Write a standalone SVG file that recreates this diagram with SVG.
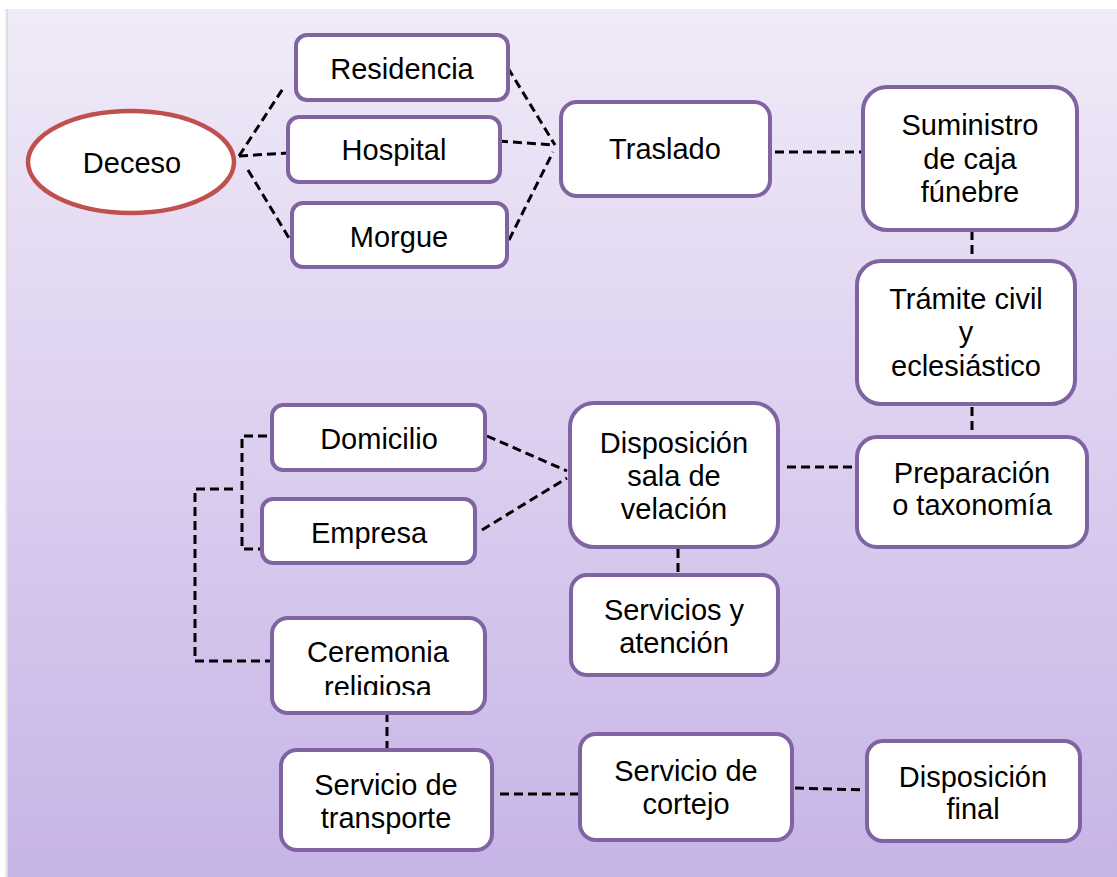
<svg xmlns="http://www.w3.org/2000/svg" width="1117" height="877" viewBox="0 0 1117 877">
<defs>
<linearGradient id="bg" x1="0" y1="0" x2="0" y2="1">
<stop offset="0" stop-color="#f0ebf8"/>
<stop offset="0.5" stop-color="#dccfef"/>
<stop offset="1" stop-color="#c7b4e7"/>
</linearGradient>
<linearGradient id="sh" x1="0" y1="0" x2="1" y2="0">
<stop offset="0" stop-color="#ffffff"/>
<stop offset="1" stop-color="#d6d6d6"/>
</linearGradient>
<clipPath id="clipCer"><rect x="272" y="618" width="213" height="77"/></clipPath>
</defs>
<style>
.box{fill:#ffffff;stroke:#8064a2;stroke-width:4}
.t{font-family:"Liberation Sans",Arial,sans-serif;font-size:29px;fill:#000000;text-anchor:middle}
.c{fill:none;stroke:#000000;stroke-width:3;stroke-dasharray:9 5}
</style>
<rect x="0" y="0" width="1117" height="877" fill="#ffffff"/>
<rect x="4" y="9" width="4" height="868" fill="url(#sh)"/>
<rect x="8" y="9" width="1109" height="868" fill="url(#bg)"/>

<g id="connectors">
<line class="c" x1="239" y1="156" x2="284" y2="87"/>
<line class="c" x1="239" y1="156" x2="288" y2="153"/>
<line class="c" x1="248" y1="170" x2="292" y2="243"/>
<line class="c" x1="508" y1="68" x2="555" y2="145"/>
<line class="c" x1="499" y1="141" x2="555" y2="145"/>
<line class="c" x1="509" y1="240" x2="553" y2="152"/>
<line class="c" x1="775" y1="152" x2="863" y2="152"/>
<line class="c" x1="972" y1="231" x2="972" y2="262"/>
<line class="c" x1="972" y1="407" x2="972" y2="437"/>
<line class="c" x1="787" y1="467" x2="857" y2="467"/>
<line class="c" x1="487" y1="436" x2="567" y2="471"/>
<line class="c" x1="482" y1="530" x2="567" y2="478"/>
<line class="c" x1="678" y1="549" x2="678" y2="575"/>
<path class="c" d="M267,436 H242 V549 H265"/>
<path class="c" d="M233,489 H195 V661 H273"/>
<line class="c" x1="387" y1="713" x2="387" y2="749"/>
<line class="c" x1="500" y1="794" x2="581" y2="794"/>
<line class="c" x1="795" y1="788" x2="868" y2="790"/>
</g>

<g id="deceso">
<ellipse cx="131" cy="162" rx="103" ry="51" fill="#ffffff" stroke="#c0504d" stroke-width="4.5"/>
<text class="t" x="132" y="173">Deceso</text>
</g>
<g id="residencia">
<rect class="box" x="296" y="35" width="212" height="65" rx="11"/>
<text class="t" x="402" y="79">Residencia</text>
</g>
<g id="hospital">
<rect class="box" x="288" y="117" width="212" height="65" rx="11"/>
<text class="t" x="394" y="160">Hospital</text>
</g>
<g id="morgue">
<rect class="box" x="292" y="203" width="215" height="64" rx="11"/>
<text class="t" x="399" y="247">Morgue</text>
</g>
<g id="traslado">
<rect class="box" x="561" y="102" width="209" height="94" rx="16"/>
<text class="t" x="665" y="159">Traslado</text>
</g>
<g id="suministro">
<rect class="box" x="863" y="87" width="214" height="143" rx="24"/>
<text class="t" x="970" y="135">Suministro</text>
<text class="t" x="970" y="169">de caja</text>
<text class="t" x="970" y="202">fúnebre</text>
</g>
<g id="tramite">
<rect class="box" x="857" y="261" width="218" height="143" rx="24"/>
<text class="t" x="966" y="309">Trámite civil</text>
<text class="t" x="966" y="342">y</text>
<text class="t" x="966" y="376">eclesiástico</text>
</g>
<g id="preparacion">
<rect class="box" x="857" y="437" width="230" height="110" rx="20"/>
<text class="t" x="972" y="483">Preparación</text>
<text class="t" x="972" y="515">o taxonomía</text>
</g>
<g id="disposicion-sala">
<rect class="box" x="570" y="403" width="208" height="144" rx="24"/>
<text class="t" x="674" y="453">Disposición</text>
<text class="t" x="674" y="486">sala de</text>
<text class="t" x="674" y="519">velación</text>
</g>
<g id="servicios">
<rect class="box" x="571" y="575" width="207" height="100" rx="16"/>
<text class="t" x="674" y="620">Servicios y</text>
<text class="t" x="674" y="653">atención</text>
</g>
<g id="domicilio">
<rect class="box" x="272" y="405" width="213" height="65" rx="11"/>
<text class="t" x="379" y="449">Domicilio</text>
</g>
<g id="empresa">
<rect class="box" x="262" y="499" width="213" height="64" rx="11"/>
<text class="t" x="369" y="543">Empresa</text>
</g>
<g id="ceremonia">
<rect class="box" x="272" y="618" width="213" height="95" rx="16"/>
<g clip-path="url(#clipCer)">
<text class="t" x="378" y="662">Ceremonia</text>
<text class="t" x="378" y="697">religiosa</text>
</g>
</g>
<g id="transporte">
<rect class="box" x="281" y="750" width="211" height="100" rx="16"/>
<text class="t" x="386" y="795">Servicio de</text>
<text class="t" x="386" y="828">transporte</text>
</g>
<g id="cortejo">
<rect class="box" x="580" y="734" width="212" height="106" rx="16"/>
<text class="t" x="686" y="781">Servicio de</text>
<text class="t" x="686" y="814">cortejo</text>
</g>
<g id="final">
<rect class="box" x="867" y="741" width="213" height="100" rx="16"/>
<text class="t" x="973" y="787">Disposición</text>
<text class="t" x="973" y="819">final</text>
</g>
</svg>
